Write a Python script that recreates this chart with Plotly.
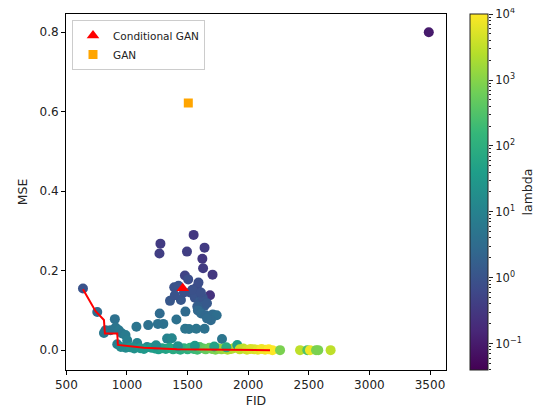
import numpy as np
import plotly.graph_objects as go

# ---- data ----
fid = [3490,
       1276, 1268, 1550, 1640, 1495, 1622, 1628, 1706, 1685, 1478,
       1505, 1390, 1425, 1575, 1590, 1445, 1355, 1520, 1560, 1598, 1625, 1640, 1540, 1470, 1395, 1610, 1660, 1580, 637,
       1482, 1585, 1612, 1650, 1708, 1740, 1692, 1660, 1270, 1408, 1300, 1255, 1175, 1078, 1480, 1512, 1572, 1640, 1784,
       755, 900, 823, 864, 906, 933, 960, 988, 810, 1002, 920, 1084, 1166, 1331, 1370,
       950, 990, 1030, 1060, 1110, 1140, 1200, 1230, 1260, 1290, 1320, 1350, 1380, 1410, 1440, 1470, 1500, 1520, 1550,
       1580, 1600, 1630, 1650, 1680, 1700, 1730, 1750, 1780, 1800, 1830, 1860, 1880, 1910, 1930, 1960, 1990, 2020,
       2050, 2080, 2110, 2140, 2170, 2200, 2263, 2428, 2488, 2510, 2560, 2578, 2680,
       1240, 1420, 1560, 1720, 1820]
mse = [0.800,
       0.268, 0.243, 0.290, 0.258, 0.248, 0.230, 0.206, 0.190, 0.138, 0.188,
       0.178, 0.158, 0.162, 0.158, 0.170, 0.126, 0.124, 0.145, 0.132, 0.122, 0.132, 0.112, 0.152, 0.145, 0.138, 0.145, 0.118, 0.110, 0.155,
       0.097, 0.100, 0.092, 0.088, 0.090, 0.088, 0.075, 0.080, 0.092, 0.077, 0.066, 0.066, 0.063, 0.059, 0.054, 0.053, 0.054, 0.054, 0.028,
       0.096, 0.078, 0.050, 0.050, 0.057, 0.050, 0.042, 0.038, 0.043, 0.025, 0.015, 0.018, 0.008, 0.029, 0.030,
       0.008, 0.006, 0.007, 0.004, 0.005, 0.003, 0.006, 0.004, 0.002, 0.005, 0.003, 0.006, 0.002, 0.004, 0.001, 0.005, 0.002, 0.006, 0.003,
       0.001, 0.008, 0.004, 0.002, 0.006, 0.003, 0.001, 0.005, 0.002, 0.004, 0.001, 0.003, 0.005, 0.013, 0.002, 0.004, 0.001, 0.003,
       0.002, 0.001, 0.003, 0.001, 0.002, 0.000, 0.000, 0.000, 0.000, 0.000, 0.000, 0.000, 0.000,
       0.012, 0.010, 0.011, 0.009, 0.007]
lam = [0.1,
       0.35, 0.4, 0.3, 0.35, 0.4, 0.3, 0.35, 0.3, 0.25, 0.5,
       0.8, 0.9, 1.0, 0.7, 0.8, 1.2, 1.2, 1.0, 1.0, 1.3, 1.1, 1.5, 0.9, 0.9, 1.0, 0.9, 1.3, 1.6, 1.0,
       3, 2.5, 3, 2.5, 3, 3.5, 3, 3, 3, 4, 4, 4, 4, 5, 5, 5, 5, 4, 5,
       3, 4, 5, 5, 5, 6, 6, 7, 6, 8, 8, 10, 12, 10, 12,
       15, 15, 20, 20, 25, 30, 30, 40, 40, 50, 50, 60, 70, 80, 80, 100, 100, 150, 150,
       200, 300, 400, 500, 600, 700, 800, 1000, 1200, 1500, 2000, 2000, 2500, 40, 3000, 3000, 4000, 5000,
       5000, 6000, 8000, 8000, 10000, 10000, 800, 3000, 300, 8000, 800, 800, 3000,
       15, 20, 30, 50, 80]

front_fid = [637, 741, 810, 818, 920, 925, 1139, 1413, 2180]
front_mse = [0.153, 0.098, 0.076, 0.042, 0.042, 0.013, 0.006, 0.002, 0.0]

cgan_fid, cgan_mse = [1460], [0.156]
gan_fid, gan_mse = [1506], [0.622]

cbar_ticks = [0.1, 1, 10, 100, 1000, 10000]
cbar_text = ["10<sup>−1</sup>", "10<sup>0</sup>", "10<sup>1</sup>", "10<sup>2</sup>", "10<sup>3</sup>", "10<sup>4</sup>"]
x_ticks = [500, 1000, 1500, 2000, 2500, 3000, 3500]
y_ticks = [0.0, 0.2, 0.4, 0.6, 0.8]

# ---- geometry (page has an 8px body margin, compensate for it) ----
OFF = 8
W, H = 545 - OFF, 410 - OFF
ML, MR, MT, MB = 66 - OFF, 4, 14 - OFF, 40
PW = W - ML - MR
PH = H - MT - MB
def xp(px):   # page pixel x -> paper fraction
    return (px - OFF - ML) / PW
def yp(py):   # page pixel y -> paper fraction
    return 1 - (py - OFF - MT) / PH

FONT = "DejaVu Sans"
CMIN, CMAX = -1.4, 4.0

fig = go.Figure()
fig.add_trace(go.Scatter(
    x=fid, y=mse, mode="markers", showlegend=False, hoverinfo="skip",
    marker=dict(size=10, color=np.log10(lam), colorscale="Viridis", cmin=CMIN, cmax=CMAX,
                line=dict(width=0),
                colorbar=dict(x=xp(470), xanchor="left", xref="paper", xpad=0, ypad=0,
                              y=0.5, yanchor="middle", len=1, lenmode="fraction",
                              thickness=18, thicknessmode="pixels",
                              outlinewidth=1, outlinecolor="#222",
                              showticklabels=False, ticks=""))))
fig.add_trace(go.Scatter(x=front_fid, y=front_mse, mode="lines", showlegend=False,
                         line=dict(color="red", width=2), hoverinfo="skip"))
fig.add_trace(go.Scatter(x=cgan_fid, y=cgan_mse, mode="markers", name="Conditional GAN",
                         marker=dict(symbol="triangle-up", size=11, color="red")))
fig.add_trace(go.Scatter(x=gan_fid, y=gan_mse, mode="markers", name="GAN",
                         marker=dict(symbol="square", size=9, color="orange")))
# invisible trace so the colorbar tick axis renders
fig.add_trace(go.Scatter(x=[0.5], y=[1], xaxis="x2", yaxis="y2", mode="markers",
                         marker=dict(opacity=0), showlegend=False, hoverinfo="skip"))

axis_common = dict(showline=True, linecolor="black", linewidth=1, mirror=True, automargin=False,
                   ticks="outside", ticklen=4, tickcolor="black", showgrid=False, zeroline=False,
                   tickfont=dict(family=FONT, size=12, color="#222"))
fig.update_layout(
    width=W, height=H, margin=dict(l=ML, r=MR, t=MT, b=MB, autoexpand=False),
    paper_bgcolor="white", plot_bgcolor="white",
    font=dict(family=FONT, size=12, color="#222"),
    xaxis=dict(domain=[0, xp(446)], range=[497, 3632], tickvals=x_ticks,
               title=dict(text="FID", font=dict(family=FONT, size=12.5), standoff=4), **axis_common),
    yaxis=dict(range=[-0.05, 0.846], tickvals=y_ticks, tickformat=".1f",
               title=dict(text="MSE", font=dict(family=FONT, size=12.5), standoff=9), **axis_common),
    xaxis2=dict(domain=[xp(470), xp(488)], range=[0, 1], visible=False, anchor="y2",
                automargin=False),
    yaxis2=dict(domain=[0, 1], anchor="x2", side="right", type="log", range=[CMIN - 0.002, CMAX + 0.002],
                showline=False, showgrid=False, zeroline=False, automargin=False,
                ticks="outside", ticklen=4, tickcolor="#222", tickwidth=1,
                tickvals=cbar_ticks, ticktext=cbar_text, ticklabeloverflow="allow",
                tickfont=dict(family=FONT, size=11.5, color="#222"),
                minor=dict(ticks="outside", ticklen=2, tickcolor="#222",
                           tickvals=[m * 10.0 ** e for e in range(-2, 4) for m in range(2, 10)])),
    legend=dict(x=xp(72), y=yp(20), xanchor="left", yanchor="top",
                bgcolor="white", bordercolor="#cccccc", borderwidth=1,
                font=dict(family=FONT, size=10.5, color="#222"), itemwidth=30,
                tracegroupgap=0),
    annotations=[dict(text="lambda", textangle=-90, xref="paper", yref="paper",
                      x=xp(536), y=0.5, showarrow=False,
                      font=dict(family=FONT, size=12.5, color="#222"))],
)

fig.write_html("out.html")
